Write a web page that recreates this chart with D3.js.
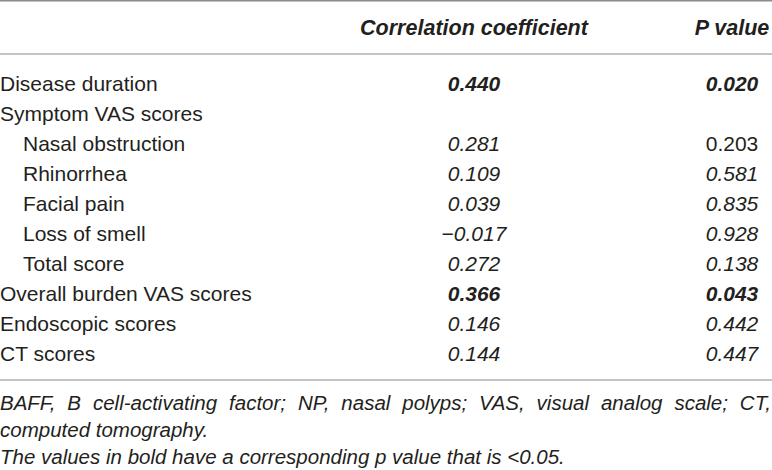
<!DOCTYPE html>
<html>
<head>
<meta charset="utf-8">
<script src="https://cdn.jsdelivr.net/npm/d3@7"></script>
<style>
  html, body { margin: 0; padding: 0; background: #fff; }
  svg { display: block; font-family: "Liberation Sans", Arial, Helvetica, sans-serif; }
</style>
</head>
<body>
<div id="table"></div>
<script>
// table content
const headers = ["Correlation coefficient", "P value"];
const rowLabels = ["Disease duration", "Symptom VAS scores", "Nasal obstruction", "Rhinorrhea",
    "Facial pain", "Loss of smell", "Total score", "Overall burden VAS scores",
    "Endoscopic scores", "CT scores"];
const rowLevel = [0, 0, 1, 1, 1, 1, 1, 0, 0, 0];
const corrValues = [0.440, null, 0.281, 0.109, 0.039, -0.017, 0.272, 0.366, 0.146, 0.144];
const pValues = [0.020, null, 0.203, 0.581, 0.835, 0.928, 0.138, 0.043, 0.442, 0.447];
const pUpright = ["Nasal obstruction"]; // printed non-italic in the source
const footnotes = [
    "BAFF, B cell-activating factor; NP, nasal polyps; VAS, visual analog scale; CT,",
    "computed tomography.",
    "The values in bold have a corresponding p value that is <0.05."
];

const width = 772, height = 470;
const textColor = "#231f20";
const fmt = d3.format(".3f");

const svg = d3.select("#table").append("svg")
    .attr("width", width)
    .attr("height", height);

const y = d3.scaleBand()
    .domain(rowLabels)
    .range([68, 368]);

const x = d3.scaleOrdinal()
    .domain(["label", "corr", "p"])
    .range([0, 474, 732]);

// rules
const rules = [
    { y: 0.8, color: "#8a8a8a", w: 1.6 },
    { y: 54, color: "#b0b0b0", w: 1.3 },
    { y: 380, color: "#b0b0b0", w: 1.3 }
];
svg.selectAll("line.rule")
    .data(rules)
    .enter().append("line")
    .attr("class", "rule")
    .attr("x1", 0).attr("x2", width)
    .attr("y1", d => d.y).attr("y2", d => d.y)
    .attr("stroke", d => d.color)
    .attr("stroke-width", d => d.w);

// header
svg.selectAll("text.header")
    .data(headers)
    .enter().append("text")
    .attr("class", "header")
    .attr("x", (d, i) => x(i === 0 ? "corr" : "p"))
    .attr("y", 28)
    .attr("text-anchor", "middle")
    .attr("dominant-baseline", "central")
    .attr("font-size", 21.5)
    .attr("font-weight", "bold")
    .attr("font-style", "italic")
    .attr("fill", textColor)
    .text(d => d);

const rows = rowLabels.map((label, i) => ({
    label,
    level: rowLevel[i],
    corr: corrValues[i],
    p: pValues[i]
}));

const row = svg.selectAll("g.row")
    .data(rows)
    .enter().append("g")
    .attr("class", "row")
    .attr("transform", d => `translate(0,${y(d.label) + y.bandwidth() / 2})`);

row.append("text")
    .attr("x", d => x("label") + d.level * 23)
    .attr("dominant-baseline", "central")
    .attr("font-size", 21)
    .attr("fill", textColor)
    .text(d => d.label);

row.filter(d => d.corr !== null).append("text")
    .attr("x", x("corr"))
    .attr("text-anchor", "middle")
    .attr("dominant-baseline", "central")
    .attr("font-size", 21)
    .attr("font-style", "italic")
    .attr("font-weight", d => d.p < 0.05 ? "bold" : "normal")
    .attr("fill", textColor)
    .text(d => fmt(d.corr));

row.filter(d => d.p !== null).append("text")
    .attr("x", x("p"))
    .attr("text-anchor", "middle")
    .attr("dominant-baseline", "central")
    .attr("font-size", 21)
    .attr("font-style", d => pUpright.includes(d.label) ? "normal" : "italic")
    .attr("font-weight", d => d.p < 0.05 ? "bold" : "normal")
    .attr("fill", textColor)
    .text(d => fmt(d.p));

// footnotes, first line justified across the full width
const noteY = [402, 429, 456];
footnotes.forEach((note, i) => {
    const g = svg.append("g").attr("transform", `translate(0,${noteY[i]})`);
    const words = note.split(" ");
    const wordText = g.selectAll("text")
        .data(words)
        .enter().append("text")
        .attr("dominant-baseline", "central")
        .attr("font-size", 20.5)
        .attr("font-style", "italic")
        .attr("fill", textColor)
        .text(d => d);
    const widths = wordText.nodes().map(n => n.getComputedTextLength());
    const space = i === 0
        ? (width - 1 - d3.sum(widths)) / (words.length - 1)
        : 20.5 * 0.278;
    let pos = 0;
    wordText.attr("x", (d, j) => {
        const at = pos;
        pos += widths[j] + space;
        return at;
    });
});
</script>
</body>
</html>
